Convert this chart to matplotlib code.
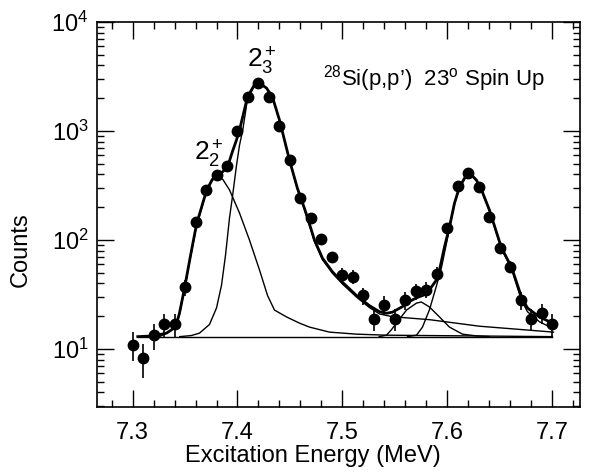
import numpy as np
import matplotlib.pyplot as plt
from matplotlib.ticker import MultipleLocator, LogLocator, FormatStrFormatter

plt.rcParams['font.family'] = 'Liberation Sans'
plt.rcParams['mathtext.fontset'] = 'custom'
plt.rcParams['mathtext.rm'] = 'Liberation Sans'
plt.rcParams['mathtext.it'] = 'Liberation Sans:italic'
plt.rcParams['mathtext.bf'] = 'Liberation Sans:bold'

# measured spectrum (bin centres in MeV, counts, statistical errors)
energy = [7.30, 7.31, 7.32, 7.33, 7.34, 7.35, 7.36, 7.37, 7.38, 7.39,
          7.40, 7.41, 7.42, 7.43, 7.44, 7.45, 7.46, 7.47, 7.48, 7.49,
          7.50, 7.51, 7.52, 7.53, 7.54, 7.55, 7.56, 7.57, 7.58, 7.59,
          7.60, 7.61, 7.62, 7.63, 7.64, 7.65, 7.66, 7.67, 7.68, 7.69, 7.70]
counts = [11, 8.3, 13.4, 17, 17, 37, 146, 288, 394, 478,
          1000, 2050, 2750, 2050, 1110, 542, 243, 158, 102, 70,
          48, 46, 31, 19, 25.5, 19, 28, 34, 35, 49,
          129, 313, 412, 306, 163, 85, 57, 28, 19, 21.5, 17]
errors = [3.3, 2.9, 3.7, 4.1, 4.1, 6.1, 12, 17, 20, 22,
          32, 45, 52, 45, 33, 23, 16, 12.6, 10, 8.4,
          6.9, 6.8, 5.6, 4.4, 5.0, 4.4, 5.3, 5.8, 5.9, 7.0,
          11, 18, 20, 17.5, 12.8, 9.2, 7.5, 5.3, 4.4, 4.6, 4.1]

# fit curves
bg_e = [7.305, 7.70]
bg_c = [13.0, 13.0]

total_e = [7.305, 7.320, 7.3324, 7.338, 7.3419, 7.3448, 7.3495, 7.355, 7.361, 7.3705,
           7.376, 7.380, 7.3855, 7.3905, 7.395, 7.399, 7.4019, 7.4095, 7.416, 7.421,
           7.4276, 7.4333, 7.440, 7.4495, 7.457, 7.4638, 7.4686, 7.4733, 7.481, 7.4905,
           7.500, 7.5133, 7.5257, 7.5352, 7.542, 7.5476, 7.5571, 7.561, 7.5705, 7.580,
           7.5895, 7.5924, 7.5971, 7.6019, 7.6067, 7.6114, 7.618, 7.621, 7.6276, 7.6333,
           7.640, 7.6514, 7.661, 7.6705, 7.6762, 7.6876, 7.700]
total_c = [13.0, 13.2, 14.0, 15.2, 17.0, 21.5, 36, 70, 140, 285,
           360, 392, 420, 468, 640, 826, 1020, 2050, 2640, 2750,
           2480, 2050, 1260, 542, 300, 195, 140, 100, 68, 51,
           41, 31, 25, 22, 21.3, 21.8, 24.5, 26.5, 29.5, 32,
           43, 53, 86, 132, 218, 306, 394, 412, 355, 275,
           188, 85, 56.5, 30, 23.8, 19.7, 17.3]

p22_e = [7.3257, 7.3324, 7.338, 7.3419, 7.3448, 7.3495, 7.355, 7.361, 7.3705, 7.376,
         7.381, 7.386, 7.3924, 7.4019, 7.4114, 7.421, 7.4286, 7.4352, 7.4467, 7.459,
         7.4686, 7.4876, 7.5133, 7.542, 7.70]
p22_c = [13.0, 14.0, 15.2, 17.0, 21.0, 35, 68, 135, 281, 354,
         379, 360, 288, 177, 100, 53, 31, 22.8, 19.7, 17.3,
         15.9, 14.3, 13.7, 13.4, 13.0]

p23_e = [7.345, 7.356, 7.3638, 7.3733, 7.380, 7.3848, 7.3886, 7.3924, 7.3952, 7.399,
         7.4019, 7.405, 7.4095, 7.416, 7.421, 7.4276, 7.4333, 7.440, 7.4495, 7.457,
         7.4638, 7.4686, 7.4733, 7.481, 7.4905, 7.500, 7.5133, 7.5257, 7.5352, 7.5476,
         7.5829, 7.6305, 7.701]
p23_c = [13.0, 13.3, 14.0, 16.8, 23.8, 38.6, 72.8, 160, 250, 480,
         740, 1020, 1960, 2600, 2740, 2460, 2030, 1250, 535, 295,
         190, 136, 97, 66, 49.5, 39.5, 30, 24, 21, 19.8,
         18.6, 16.2, 14.3]

p57_e = [7.535, 7.5419, 7.5465, 7.5514, 7.561, 7.5705, 7.5752, 7.5829, 7.5924, 7.6019,
         7.6143, 7.6276, 7.64]
p57_c = [13.0, 13.4, 15.0, 17.3, 22.8, 26.4, 27.0, 24.3, 19.7, 15.9,
         13.7, 13.2, 13.0]

p62_e = [7.562, 7.5705, 7.5762, 7.5829, 7.5895, 7.5943, 7.6019, 7.6067, 7.6114, 7.618,
         7.621, 7.6276, 7.6333, 7.640, 7.6514, 7.661, 7.6705, 7.6762, 7.6876, 7.700]
p62_c = [13.0, 13.4, 15.9, 23, 38, 56, 127, 214, 302, 390,
         409, 352, 272, 185, 83, 54.5, 28, 22, 17.8, 15.5]

fig = plt.figure(figsize=(5.94, 4.73), dpi=100)
ax = fig.add_axes([0.163, 0.1395, 0.813, 0.814])

ax.plot(bg_e, bg_c, 'k-', lw=1.0)
for e, c in [(p22_e, p22_c), (p23_e, p23_c), (p57_e, p57_c), (p62_e, p62_c)]:
    ax.plot(e, c, 'k-', lw=1.0)
ax.plot(total_e, total_c, 'k-', lw=2.0)
ax.errorbar(energy, counts, yerr=errors, fmt='o', color='k', ms=7.5,
            elinewidth=1.2, capsize=0, zorder=5)

ax.set_yscale('log')
ax.set_xlim(7.266, 7.726)
ax.set_ylim(2.94, 1e4)
ax.xaxis.set_major_locator(MultipleLocator(0.1))
ax.xaxis.set_minor_locator(MultipleLocator(0.02))
ax.xaxis.set_major_formatter(FormatStrFormatter('%.1f'))
ax.yaxis.set_major_locator(LogLocator(base=10, numticks=10))
ax.yaxis.set_minor_locator(LogLocator(base=10, subs=np.arange(2, 10), numticks=10))

ax.tick_params(which='both', direction='in', top=True, right=True, width=1.0)
ax.tick_params(which='major', length=12)
ax.tick_params(which='minor', length=5)
ax.tick_params(axis='x', labelsize=17, pad=11)
ax.tick_params(axis='y', labelsize=17, pad=6)
for s in ax.spines.values():
    s.set_linewidth(1.2)

ax.set_xlabel('Excitation Energy (MeV)', fontsize=17)
ax.set_ylabel('Counts', fontsize=17)
ax.xaxis.set_label_coords(0.447, -0.098)
ax.yaxis.set_label_coords(-0.135, 0.408)

ax.text(7.4086, 3790, r'$2_3^+$', fontsize=19, ha='left', va='baseline')
ax.text(7.359, 542, r'$2_2^+$', fontsize=19, ha='left', va='baseline')
ax.text(7.481, 2640, r"$^{28}$Si(p,p’)  23$^{\rm o}$ Spin Up", fontsize=16,
        ha='left', va='baseline')

fig.savefig('out.png', dpi=100)
